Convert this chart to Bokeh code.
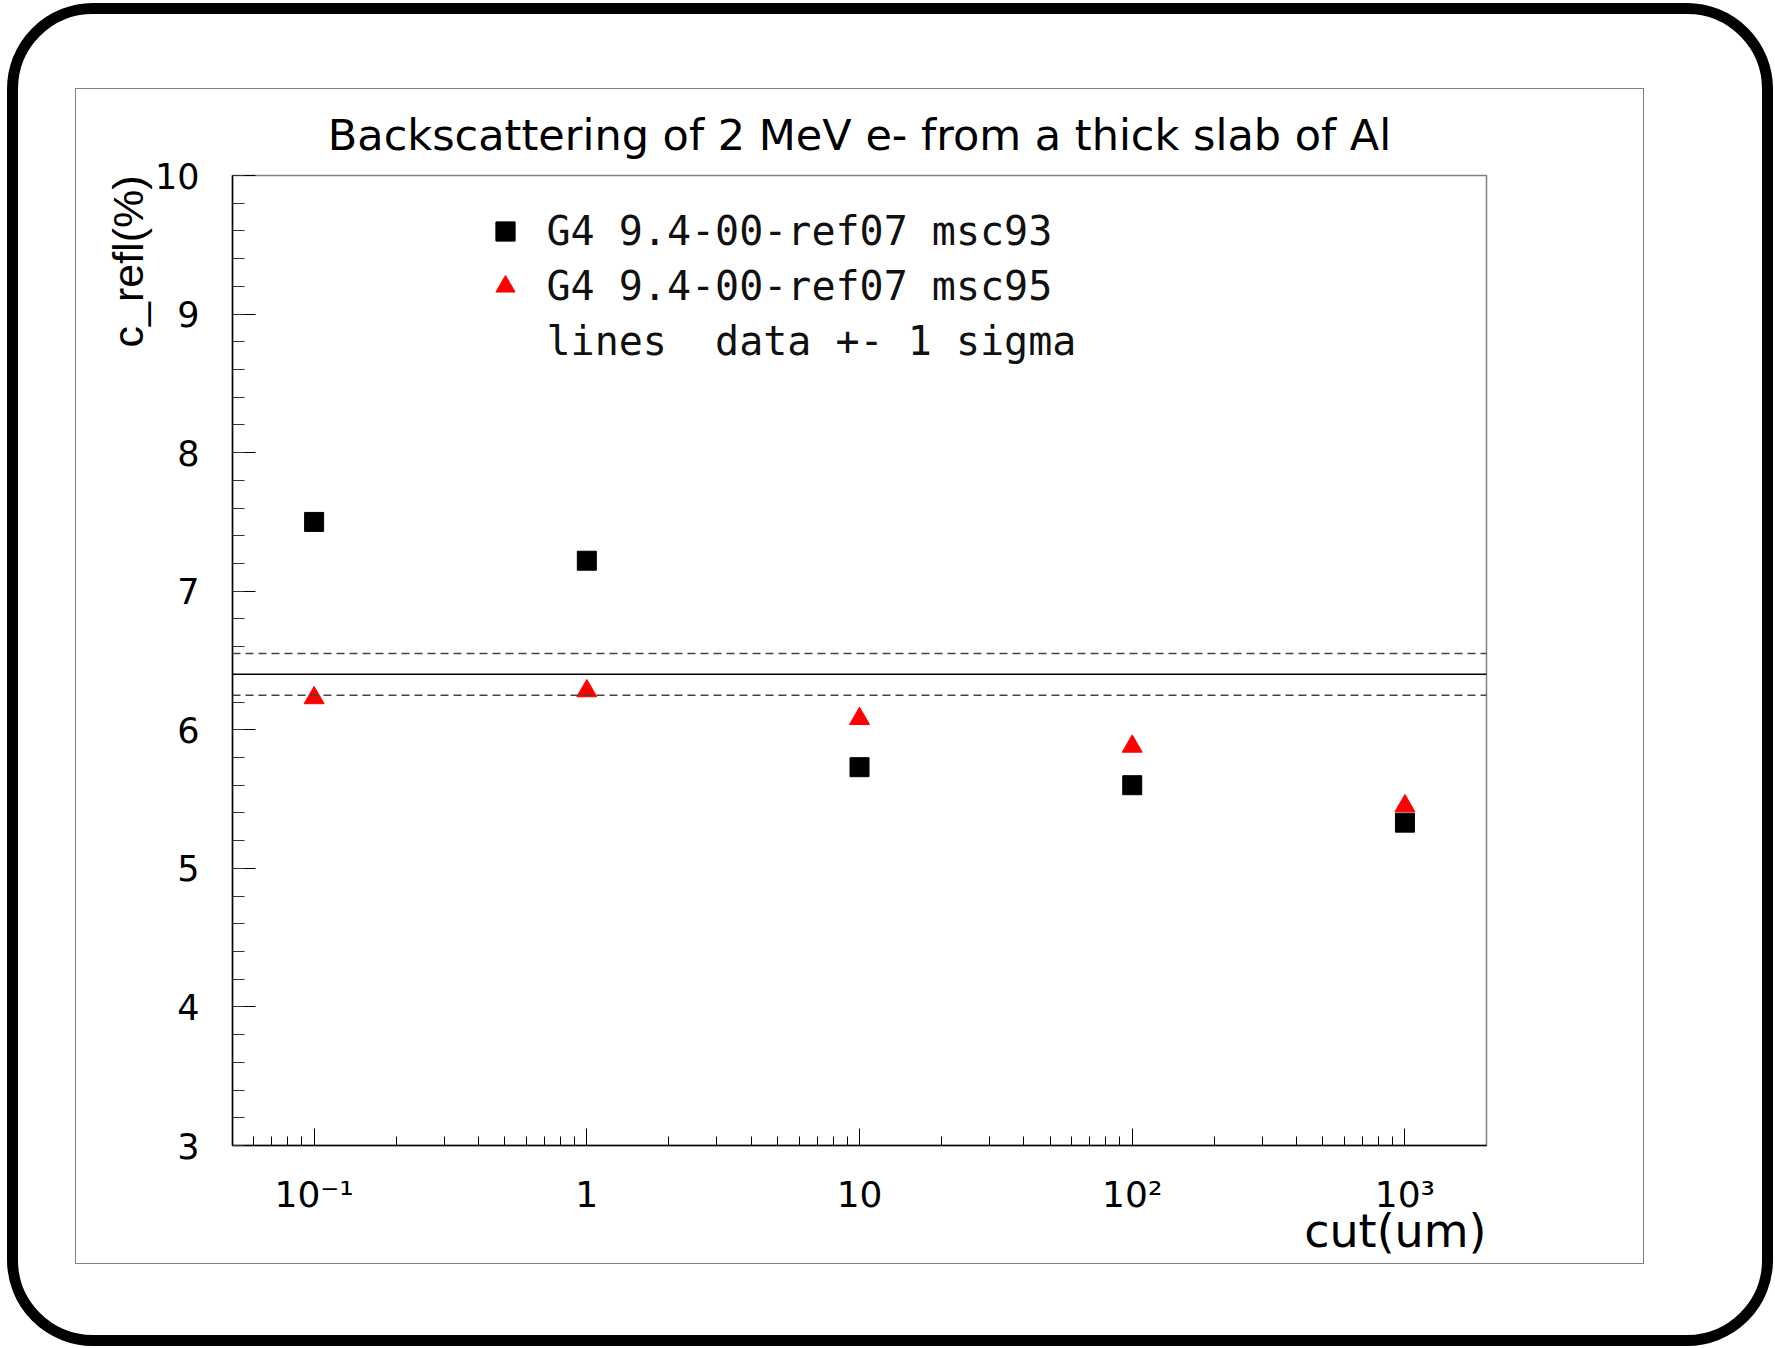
from bokeh.plotting import figure
from bokeh.models import (Span, Legend, LegendItem, SingleIntervalTicker, LogTicker, Title,
                          InlineStyleSheet)
from bokeh.embed import file_html
from bokeh.resources import INLINE

# ---------------- data ----------------
title_text = "Backscattering of 2 MeV e- from a thick slab of Al"
x_title = "cut(um)"
y_title = "c_refl(%)"
cut_um = [0.1, 1, 10, 100, 1000]
refl_msc93 = [7.50, 7.22, 5.73, 5.60, 5.33]
refl_msc95 = [6.23, 6.28, 6.08, 5.88, 5.45]
data_mean = 6.40
data_sigma = 0.15
label_msc93 = "G4 9.4-00-ref07 msc93"
label_msc95 = "G4 9.4-00-ref07 msc95"
label_lines = "lines  data +- 1 sigma"
x_ticks = [0.1, 1, 10, 100, 1000]
x_tick_labels = ["10\u207b\u00b9", "1", "10", "10\u00b2", "10\u00b3"]

# ---------------- layout ----------------
W, H = 1775, 1348
FL, FR, FT, FB = 232, 1486, 175, 1145
FONT = "DejaVu Sans"

p = figure(width=W, height=H, x_axis_type="log", x_range=(0.0502, 1991), y_range=(3, 10),
           output_backend="svg", toolbar_location=None,
           min_border_left=FL, min_border_right=W - FR, min_border_top=FT, min_border_bottom=H - FB)
p.grid.visible = False
p.background_fill_color = "white"
p.border_fill_color = "white"
p.outline_line_color = "#808080"
p.outline_line_width = 1.5

# pad frame and rounded outer border (page decoration)
p.stylesheets = [InlineStyleSheet(css="""
:host { position: relative; }
:host::before {
  content: ""; position: absolute; left: 75px; top: 88px; width: 1569px; height: 1176px;
  box-sizing: border-box; border: 1.5px solid #808080; pointer-events: none; z-index: 5;
}
:host::after {
  content: ""; position: absolute; left: 7px; top: 3px; width: 1766px; height: 1343px;
  box-sizing: border-box; border: 11px solid black; border-radius: 86px;
  pointer-events: none; z-index: 6;
}
""")]

# title
p.title.text = title_text
p.title.align = "center"
p.title.text_font = FONT
p.title.text_font_size = "43px"
p.title.text_font_style = "normal"
p.title.text_color = "black"
p.title.standoff = 31

# x axis
xa = p.xaxis[0]
xa.ticker = LogTicker(desired_num_ticks=6, num_minor_ticks=10)
xa.major_label_overrides = {t: s for t, s in zip(x_ticks, x_tick_labels)}
xa.axis_line_color = "black"
xa.axis_line_width = 1.5
xa.major_tick_in = 17
xa.major_tick_out = 0
xa.minor_tick_in = 9
xa.minor_tick_out = 0
xa.major_tick_line_color = "black"
xa.minor_tick_line_color = "black"
xa.major_label_text_font = FONT
xa.major_label_text_font_size = "36px"
xa.major_label_text_color = "black"
xa.major_label_standoff = 28

# y axis
ya = p.yaxis[0]
ya.ticker = SingleIntervalTicker(interval=1, num_minor_ticks=5)
ya.axis_line_color = "black"
ya.axis_line_width = 1.5
ya.major_tick_in = 23
ya.major_tick_out = 0
ya.minor_tick_in = 12
ya.minor_tick_out = 0
ya.major_tick_line_color = "black"
ya.minor_tick_line_color = "#333333"
ya.major_label_text_font = FONT
ya.major_label_text_font_size = "35px"
ya.major_label_text_color = "black"
ya.major_label_standoff = 33

# axis titles (side-panel titles, ROOT style: at the end of each axis)
p.add_layout(Title(text=x_title, align="right", text_font=FONT, text_font_size="46px",
                   text_font_style="normal", text_color="black", standoff=-32), "below")
p.add_layout(Title(text=y_title, align="right", text_font="Liberation Sans",
                   text_font_size="43px", text_font_style="normal", text_color="black",
                   standoff=0), "left")

# data band lines
p.add_layout(Span(location=data_mean, dimension="width", line_color="black", line_width=1.5))
for s in (+1, -1):
    p.add_layout(Span(location=data_mean + s * data_sigma, dimension="width",
                      line_color="#444444", line_width=1.5, line_dash="8 5"))

# markers
sq = p.scatter(x=cut_um, y=refl_msc93, marker="square", size=19,
               fill_color="black", line_color="black")
tri = p.scatter(x=cut_um, y=refl_msc95, marker="triangle", size=20,
                fill_color="red", line_color="red")
leg_line = p.line(x=[], y=[], line_alpha=0)

legend = Legend(items=[LegendItem(label=label_msc93, renderers=[sq]),
                       LegendItem(label=label_msc95, renderers=[tri]),
                       LegendItem(label=label_lines, renderers=[leg_line])],
                location=(248.5, 780), orientation="vertical",
                glyph_width=48, glyph_height=48, label_height=48, spacing=7, padding=0, margin=0,
                label_standoff=18, label_text_font="DejaVu Sans Mono", label_text_font_size="40px",
                label_text_color="#111111", border_line_alpha=0, background_fill_alpha=0)
p.add_layout(legend)

open("out.html", "w").write(file_html(p, INLINE))
